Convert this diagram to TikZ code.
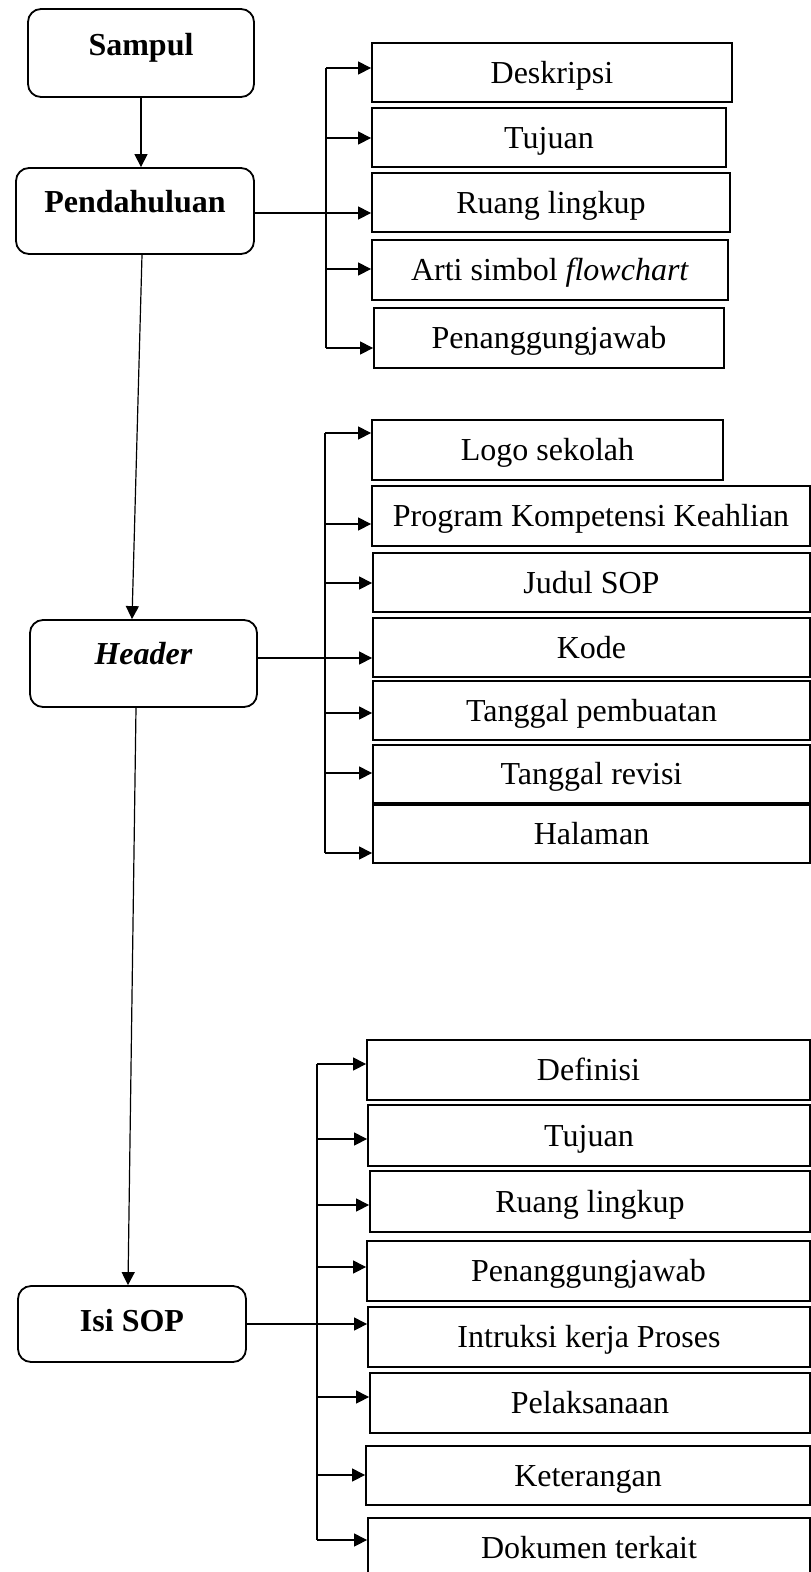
\documentclass[tikz,border=0pt]{standalone}
\usepackage{fontspec}
\setmainfont{Liberation Serif}
\usetikzlibrary{arrows.meta}

\begin{document}
\begin{tikzpicture}[x=1pt, y=-1pt,
    every node/.style={font=\fontsize{32}{38}\selectfont},
    main/.style={draw, line width=1.8pt, rounded corners=13pt},
    tag/.style={font=\fontsize{32}{38}\selectfont\bfseries, text height=21pt, text depth=0pt},
    sub/.style={draw, line width=1.8pt, minimum height=60pt, inner sep=0pt, text height=21pt, text depth=0pt},
    conn/.style={line width=1.2pt},
    arr/.style={conn, -{Triangle[length=13pt, width=13pt]}}]
\useasboundingbox (0,0) rectangle (811,1572);

% main column
\node[main, minimum width=226pt, minimum height=88pt, label={[tag, yshift=8.5pt]center:Sampul}] (sampul) at (141,53) {};
\node[main, minimum width=238pt, minimum height=86pt, label={[tag, yshift=9pt]center:Pendahuluan}] (pend) at (135,211) {};
\node[main, minimum width=227pt, minimum height=87pt, label={[tag, yshift=9.5pt]center:\textit{Header}}] (head) at (143.5,663.5) {};
\node[main, minimum width=228pt, minimum height=76pt, label={[tag, yshift=3pt]center:Isi SOP}] (isi) at (132,1324) {};

\draw[arr] (sampul.south) -- (sampul.south |- pend.north);
\draw[arr] ([xshift=7pt]pend.south) -- ([xshift=-11.5pt]head.north);
\draw[arr] ([xshift=-7.5pt]head.south) -- ([xshift=-4pt]isi.north);

% Pendahuluan
\node[sub, minimum width=360pt, minimum height=59pt] (p1) at (552,72.5) {Deskripsi};
\node[sub, minimum width=354pt, minimum height=59pt] (p2) at (549,137.5) {Tujuan};
\node[sub, minimum width=358pt, minimum height=59pt] (p3) at (551,202.5) {Ruang lingkup};
\node[sub, minimum width=356pt] (p4) at (550,270) {Arti simbol \textit{flowchart}};
\node[sub, minimum width=350pt] (p5) at (549,338) {Penanggungjawab};

\coordinate (pt) at (326,68);
\coordinate (pb) at (326,348);
\draw[conn] (pt) -- (pb);
\draw[arr] (pt) -- (p1.west |- pt);
\draw[arr] (pt |- 0,138) -- (p2.west |- 0,138);
\draw[arr] (pend.east |- 0,213) -- (p3.west |- 0,213);
\draw[arr] (pt |- 0,269) -- (p4.west |- 0,269);
\draw[arr] (pb) -- (p5.west |- pb);

% Header
\node[sub, minimum width=351pt] (h1) at (547.5,450) {Logo sekolah};
\node[sub, minimum width=438pt] (h2) at (591,516) {Program Kompetensi Keahlian};
\node[sub, minimum width=437pt, minimum height=59pt] (h3) at (591.5,582.5) {Judul SOP};
\node[sub, minimum width=437pt, minimum height=59pt] (h4) at (591.5,647.5) {Kode};
\node[sub, minimum width=437pt, minimum height=59pt] (h5) at (591.5,710.5) {Tanggal pembuatan};
\node[sub, minimum width=437pt, minimum height=58pt] (h6) at (591.5,774) {Tanggal revisi};
\node[sub, minimum width=437pt, minimum height=58pt] (h7) at (591.5,834) {Halaman};

\coordinate (ht) at (325,433);
\coordinate (hb) at (325,853);
\draw[conn] (ht) -- (hb);
\draw[arr] (ht) -- (h1.west |- ht);
\draw[arr] (ht |- 0,524) -- (h2.west |- 0,524);
\draw[arr] (ht |- 0,583) -- (h3.west |- 0,583);
\draw[arr] (head.east |- 0,658) -- (h4.west |- 0,658);
\draw[arr] (ht |- 0,713) -- (h5.west |- 0,713);
\draw[arr] (ht |- 0,773) -- (h6.west |- 0,773);
\draw[arr] (hb) -- (h7.west |- hb);

% Isi SOP
\node[sub, minimum width=443pt] (s1) at (588.5,1070) {Definisi};
\node[sub, minimum width=442pt, minimum height=61pt] (s2) at (589,1135.5) {Tujuan};
\node[sub, minimum width=440pt, minimum height=61pt] (s3) at (590,1201.5) {Ruang lingkup};
\node[sub, minimum width=443pt] (s4) at (588.5,1271) {Penanggungjawab};
\node[sub, minimum width=442pt] (s5) at (589,1337) {Intruksi kerja Proses};
\node[sub, minimum width=440pt] (s6) at (590,1403) {Pelaksanaan};
\node[sub, minimum width=444pt, minimum height=59pt] (s7) at (588,1475.5) {Keterangan};
\node[sub, minimum width=442pt] (s8) at (589,1548) {Dokumen terkait};

\coordinate (st) at (317,1064);
\coordinate (sb) at (317,1540);
\draw[conn] (st) -- (sb);
\draw[arr] (st) -- (s1.west |- st);
\draw[arr] (st |- 0,1139) -- (s2.west |- 0,1139);
\draw[arr] (st |- 0,1205) -- (s3.west |- 0,1205);
\draw[arr] (st |- 0,1267) -- (s4.west |- 0,1267);
\draw[arr] (isi.east |- 0,1324) -- (s5.west |- 0,1324);
\draw[arr] (st |- 0,1397) -- (s6.west |- 0,1397);
\draw[arr] (st |- 0,1475) -- (s7.west |- 0,1475);
\draw[arr] (sb) -- (s8.west |- sb);
\end{tikzpicture}
\end{document}
